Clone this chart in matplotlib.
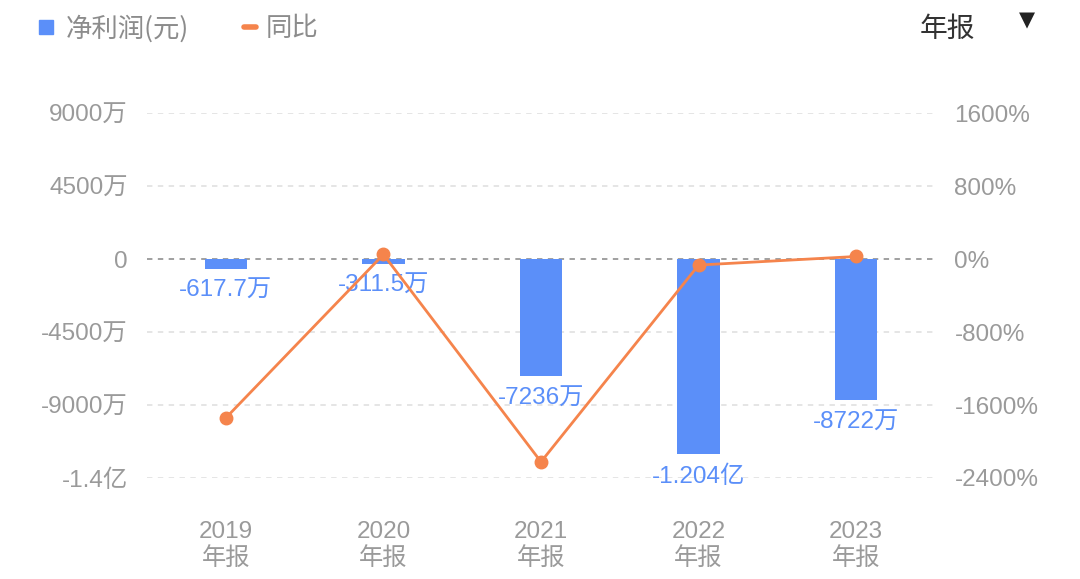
import matplotlib
matplotlib.use("Agg")
import matplotlib.pyplot as plt
from matplotlib.lines import Line2D

plt.rcParams['font.family'] = ['Liberation Sans', 'Noto Sans CJK SC', 'DejaVu Sans']

# data
years = ["2019", "2020", "2021", "2022", "2023"]
profit = [-617.7, -311.5, -7236, -12040, -8722]      # 万元
yoy = [-1742, 49.6, -2223, -66.4, 27.6]              # %
left_ticks = [9000, 4500, 0, -4500, -9000, -13500]
left_labels = ["9000万", "4500万", "0", "-4500万", "-9000万", "-1.4亿"]
right_ticks = [1600, 800, 0, -800, -1600, -2400]
right_labels = ["1600%", "800%", "0%", "-800%", "-1600%", "-2400%"]

bar_color = "#5B8FF9"
line_color = "#F5844C"
tick_color = "#9A9A9A"


def fmt(v):
    if abs(v) >= 10000:
        return "%.3f亿" % (v / 10000)
    return "%s万" % (("%.4g" % v))


fig = plt.figure(figsize=(10.8, 5.79), dpi=100)
ax = fig.add_axes([147 / 1080, 1 - 478 / 579, (935 - 147) / 1080, (478 - 113) / 579])
ax2 = ax.twinx()

x = list(range(len(years)))
ax.bar(x, profit, width=0.27, color=bar_color, zorder=2)
ax.set_xlim(-0.5, 4.5)
ax.set_ylim(-13500, 9000)

# grid lines
for t in left_ticks:
    if t == 0:
        ax.axhline(t, color="#999999", lw=1.3, ls=(0, (3, 3)), zorder=1)
    else:
        ax.axhline(t, color="#E3E3E3", lw=1.3, ls=(0, (3, 3)), zorder=1)

for xi, v in zip(x, profit):
    ax.annotate(fmt(v), (xi, v), xytext=(0, -8), textcoords="offset points",
                ha="center", va="top", fontsize=17.5, color=bar_color, zorder=3)

ax2.plot(x, yoy, color=line_color, lw=2, marker="o", markersize=9, zorder=4)
ax2.set_ylim(-2400, 1600)
ax2.set_zorder(ax.get_zorder() + 1)
ax2.patch.set_visible(False)

ax.set_yticks(left_ticks)
ax.set_yticklabels(left_labels)
ax2.set_yticks(right_ticks)
ax2.set_yticklabels(right_labels)
ax.set_xticks(x)
ax.set_xticklabels([y + "\n年报" for y in years], linespacing=1.2)

for a in (ax, ax2):
    for s in a.spines.values():
        s.set_visible(False)
ax.tick_params(axis="y", length=0, pad=14, labelsize=17.5, labelcolor=tick_color)
ax2.tick_params(axis="y", length=0, pad=14, labelsize=17.5, labelcolor=tick_color)
ax.tick_params(axis="x", length=0, pad=31, labelsize=17.5, labelcolor=tick_color)

# legend
fig.add_artist(Line2D([46 / 1080], [1 - 27 / 579], marker="s", markersize=10,
                      color=bar_color, linestyle="None"))
fig.text(66 / 1080, 1 - 29 / 579, "净利润(元)", fontsize=19, color="#8C8C8C", va="center",
         family=["Noto Sans CJK SC"])
fig.add_artist(Line2D([244 / 1080, 256 / 1080], [1 - 27 / 579, 1 - 27 / 579],
                      color=line_color, lw=4, solid_capstyle="round"))
fig.text(266 / 1080, 1 - 29 / 579, "同比", fontsize=19, color="#8C8C8C", va="center",
         family=["Noto Sans CJK SC"])

fig.text(920 / 1080, 1 - 29 / 579, "年报", fontsize=20, color="#333333", va="center",
         family=["Noto Sans CJK SC"])
fig.text(1027 / 1080, 1 - 20 / 579, "▼", fontsize=15, color="#222222",
         va="center", ha="center", family=["DejaVu Sans"])

fig.savefig("out.png", dpi=100, facecolor="white")
